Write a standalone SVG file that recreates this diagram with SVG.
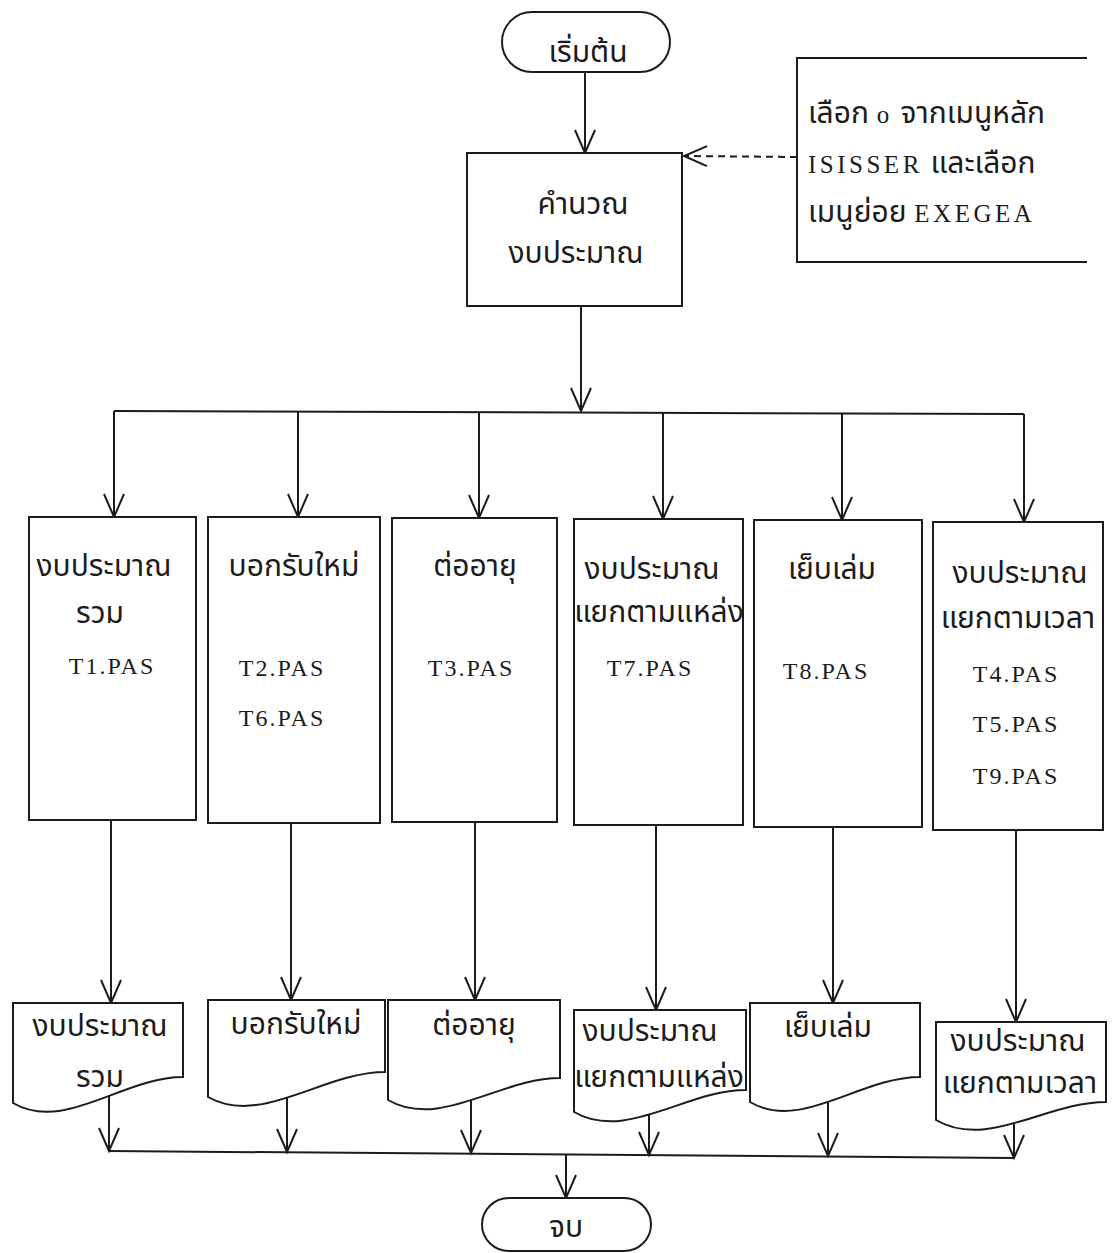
<svg xmlns="http://www.w3.org/2000/svg" width="1117" height="1253" viewBox="0 0 1117 1253">
<style>
.bg{fill:#ffffff}
.shape{fill:#ffffff;stroke:#1c1c1c;stroke-width:2}
.ln{fill:none;stroke:#1c1c1c;stroke-width:2}
.dash{fill:none;stroke:#1c1c1c;stroke-width:2;stroke-dasharray:7 5}
.th{font-family:"Noto Sans Thai","Noto Serif Thai","Liberation Serif","DejaVu Sans",serif;font-size:30px;fill:#1c1c1c}
.lat{font-family:"Liberation Serif","DejaVu Serif",serif;font-size:24px;letter-spacing:2px;fill:#1c1c1c}
.nl{font-family:"Liberation Serif","DejaVu Serif",serif;font-size:25px;letter-spacing:3.5px}
.c{text-anchor:middle}
</style>
<defs>
<marker id="ah" markerUnits="userSpaceOnUse" markerWidth="28" markerHeight="26" viewBox="-25 -13 28 26" refX="0" refY="0" orient="auto">
<path d="M-23,-10 L0,0 L-23,10" fill="none" stroke="#1c1c1c" stroke-width="2"/>
</marker>
</defs>
<rect class="bg" x="0" y="0" width="1117" height="1253"/>

<g id="connectors">
<line class="ln" x1="585" y1="72" x2="585" y2="153" marker-end="url(#ah)"/>
<line class="dash" x1="797" y1="157" x2="684" y2="156" marker-end="url(#ah)"/>
<line class="ln" x1="581" y1="306" x2="581" y2="411" marker-end="url(#ah)"/>
<line class="ln" x1="114" y1="411" x2="1024" y2="414"/>
<line class="ln" x1="114" y1="411" x2="114" y2="517" marker-end="url(#ah)"/>
<line class="ln" x1="298" y1="412" x2="298" y2="517" marker-end="url(#ah)"/>
<line class="ln" x1="479" y1="412" x2="479" y2="518" marker-end="url(#ah)"/>
<line class="ln" x1="663" y1="413" x2="663" y2="519" marker-end="url(#ah)"/>
<line class="ln" x1="842" y1="413" x2="842" y2="520" marker-end="url(#ah)"/>
<line class="ln" x1="1024" y1="414" x2="1024" y2="522" marker-end="url(#ah)"/>
<line class="ln" x1="111" y1="820" x2="111" y2="1003" marker-end="url(#ah)"/>
<line class="ln" x1="291" y1="823" x2="291" y2="1000" marker-end="url(#ah)"/>
<line class="ln" x1="475" y1="822" x2="475" y2="1000" marker-end="url(#ah)"/>
<line class="ln" x1="656" y1="825" x2="656" y2="1010" marker-end="url(#ah)"/>
<line class="ln" x1="833" y1="827" x2="833" y2="1003" marker-end="url(#ah)"/>
<line class="ln" x1="1016" y1="830" x2="1016" y2="1022" marker-end="url(#ah)"/>
<line class="ln" x1="109" y1="1077" x2="109" y2="1151" marker-end="url(#ah)"/>
<line class="ln" x1="287" y1="1072" x2="287" y2="1152" marker-end="url(#ah)"/>
<line class="ln" x1="471" y1="1078" x2="471" y2="1153" marker-end="url(#ah)"/>
<line class="ln" x1="649" y1="1090" x2="649" y2="1155" marker-end="url(#ah)"/>
<line class="ln" x1="828" y1="1077" x2="828" y2="1156" marker-end="url(#ah)"/>
<line class="ln" x1="1014" y1="1102" x2="1014" y2="1158" marker-end="url(#ah)"/>
<line class="ln" x1="109" y1="1151" x2="1014" y2="1158"/>
<line class="ln" x1="566" y1="1155" x2="566" y2="1198" marker-end="url(#ah)"/>
</g>

<g id="start">
<rect class="shape" x="502" y="12" width="168" height="60" rx="30" ry="30"/>
<text class="th c" x="588" y="62">เริ่มต้น</text>
</g>

<g id="compute">
<rect class="shape" x="467" y="153" width="215" height="153"/>
<text class="th c" x="583" y="214">คำนวณ</text>
<text class="th c" x="576" y="263">งบประมาณ</text>
</g>

<g id="note">
<path class="ln" d="M1087,58 H797 V262 H1087"/>
<text class="th" x="808" y="123">เลือก <tspan class="nl">o</tspan> จากเมนูหลัก</text>
<text class="th" x="808" y="173"><tspan class="nl">ISISSER</tspan> และเลือก</text>
<text class="th" x="808" y="222">เมนูย่อย <tspan class="nl">EXEGEA</tspan></text>
</g>

<g id="box1">
<rect class="shape" x="29" y="517" width="167" height="303"/>
<text class="th c" x="104" y="576">งบประมาณ</text>
<text class="th c" x="100" y="623">รวม</text>
<text class="lat c" x="112" y="674">T1.PAS</text>
</g>
<g id="box2">
<rect class="shape" x="208" y="517" width="172" height="306"/>
<text class="th c" x="294" y="576">บอกรับใหม่</text>
<text class="lat c" x="282" y="676">T2.PAS</text>
<text class="lat c" x="282" y="726">T6.PAS</text>
</g>
<g id="box3">
<rect class="shape" x="392" y="518" width="165" height="304"/>
<text class="th c" x="475" y="576">ต่ออายุ</text>
<text class="lat c" x="471" y="676">T3.PAS</text>
</g>
<g id="box4">
<rect class="shape" x="574" y="519" width="169" height="306"/>
<text class="th c" x="652" y="579">งบประมาณ</text>
<text class="th c" x="659" y="622">แยกตามแหล่ง</text>
<text class="lat c" x="650" y="676">T7.PAS</text>
</g>
<g id="box5">
<rect class="shape" x="754" y="520" width="168" height="307"/>
<text class="th c" x="832" y="579">เย็บเล่ม</text>
<text class="lat c" x="826" y="679">T8.PAS</text>
</g>
<g id="box6">
<rect class="shape" x="933" y="522" width="170" height="308"/>
<text class="th c" x="1020" y="583">งบประมาณ</text>
<text class="th c" x="1018" y="628">แยกตามเวลา</text>
<text class="lat c" x="1016" y="682">T4.PAS</text>
<text class="lat c" x="1016" y="732">T5.PAS</text>
<text class="lat c" x="1016" y="784">T9.PAS</text>
</g>

<g id="doc1">
<path class="shape" d="M13,1003 H183 V1077 C123,1077 64,1133 13,1103 Z"/>
<text class="th c" x="100" y="1036">งบประมาณ</text>
<text class="th c" x="100" y="1087">รวม</text>
</g>
<g id="doc2">
<path class="shape" d="M208,1000 H385 V1072 C323,1072 261,1127 208,1097 Z"/>
<text class="th c" x="296" y="1034">บอกรับใหม่</text>
</g>
<g id="doc3">
<path class="shape" d="M388,1000 H560 V1078 C500,1078 440,1130 388,1100 Z"/>
<text class="th c" x="474" y="1035">ต่ออายุ</text>
</g>
<g id="doc4">
<path class="shape" d="M574,1010 H746 V1090 C686,1090 626,1142 574,1112 Z"/>
<text class="th c" x="650" y="1041">งบประมาณ</text>
<text class="th c" x="659" y="1087">แยกตามแหล่ง</text>
</g>
<g id="doc5">
<path class="shape" d="M750,1003 H920 V1077 C860,1077 801,1132 750,1102 Z"/>
<text class="th c" x="828" y="1037">เย็บเล่ม</text>
</g>
<g id="doc6">
<path class="shape" d="M936,1022 H1106 V1102 C1046,1102 987,1150 936,1120 Z"/>
<text class="th c" x="1018" y="1051">งบประมาณ</text>
<text class="th c" x="1020" y="1093">แยกตามเวลา</text>
</g>

<g id="end">
<rect class="shape" x="482" y="1198" width="169" height="53" rx="27" ry="27"/>
<text class="th c" x="566" y="1237">จบ</text>
</g>
</svg>
